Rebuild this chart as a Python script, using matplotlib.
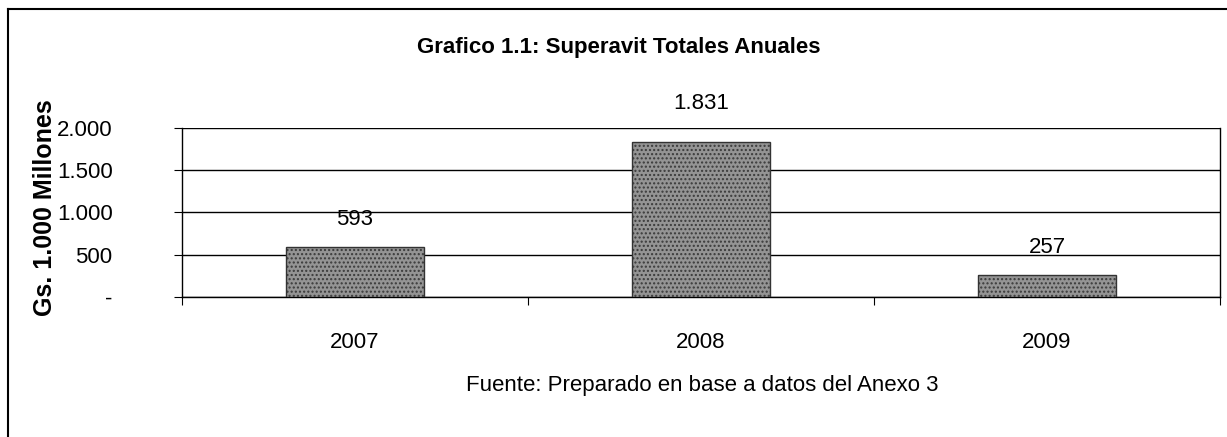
import matplotlib.pyplot as plt
from matplotlib.lines import Line2D

plt.rcParams['font.family'] = ['Liberation Sans', 'DejaVu Sans']

YEARS = ['2007', '2008', '2009']
SUPERAVIT = [593, 1831, 257]
VALUE_LABELS = ['593', '1.831', '257']
Y_TICKS = [0, 500, 1000, 1500, 2000]
Y_TICK_LABELS = ['-', '500', '1.000', '1.500', '2.000']

TITLE = "Grafico 1.1: Superavit Totales Anuales"
Y_LABEL = "Gs. 1.000 Millones"
SOURCE = "Fuente: Preparado en base a datos del Anexo 3"


def main() -> None:
    fig = plt.figure(figsize=(12.27, 4.37), dpi=100)
    ax = fig.add_axes([0.1483, 0.3204, 0.846, 0.3867])

    # outer frame (top and left only visible)
    fig.add_artist(Line2D([8 / 1227, 1], [1 - 9 / 437] * 2, color='black', lw=1.5,
                          transform=fig.transFigure))
    fig.add_artist(Line2D([8 / 1227] * 2, [0, 1 - 9 / 437], color='black', lw=1.5,
                          transform=fig.transFigure))

    x = range(len(YEARS))
    ax.bar(x, SUPERAVIT, width=0.4, color='#949494', edgecolor='#3a3a3a',
           hatch='....', linewidth=0, zorder=3)
    ax.bar(x, SUPERAVIT, width=0.4, fill=False, edgecolor='#333333',
           linewidth=1.0, zorder=4)

    offsets = [20, 28, 20]
    for xi, v, lab, off in zip(x, SUPERAVIT, VALUE_LABELS, offsets):
        ax.annotate(lab, (xi, v), xytext=(0, off), textcoords='offset points',
                    ha='center', va='center', fontsize=16)

    ax.set_xlim(-0.5, len(YEARS) - 0.5)
    ax.set_ylim(0, 2000)
    ax.set_yticks(Y_TICKS)
    ax.set_yticklabels(Y_TICK_LABELS, fontsize=16)
    ax.yaxis.grid(True, color='black', linewidth=1.0, zorder=0)

    ax.set_xticks([-0.5, 0.5, 1.5, 2.5])
    ax.set_xticklabels([])
    ax.set_xticks(list(x), minor=True)
    ax.set_xticklabels(YEARS, minor=True, fontsize=16)
    ax.tick_params(axis='x', which='minor', length=0, pad=25)
    ax.tick_params(axis='x', which='major', length=6, direction='out')
    ax.tick_params(axis='y', length=6, direction='out', pad=44)

    ax.spines['top'].set_visible(False)
    for side in ['left', 'right', 'bottom']:
        ax.spines[side].set_linewidth(1.0)

    fig.text(619 / 1227, 1 - 47 / 437, TITLE, ha='center', va='center',
             fontsize=16, fontweight='bold')
    fig.text(45 / 1227, 1 - 208 / 437, Y_LABEL, ha='center', va='center',
             rotation=90, fontsize=18, fontweight='bold')
    fig.text(702 / 1227, 1 - 385 / 437, SOURCE, ha='center', va='center',
             fontsize=16)

    fig.savefig('out.png', dpi=100)


if __name__ == '__main__':
    main()
